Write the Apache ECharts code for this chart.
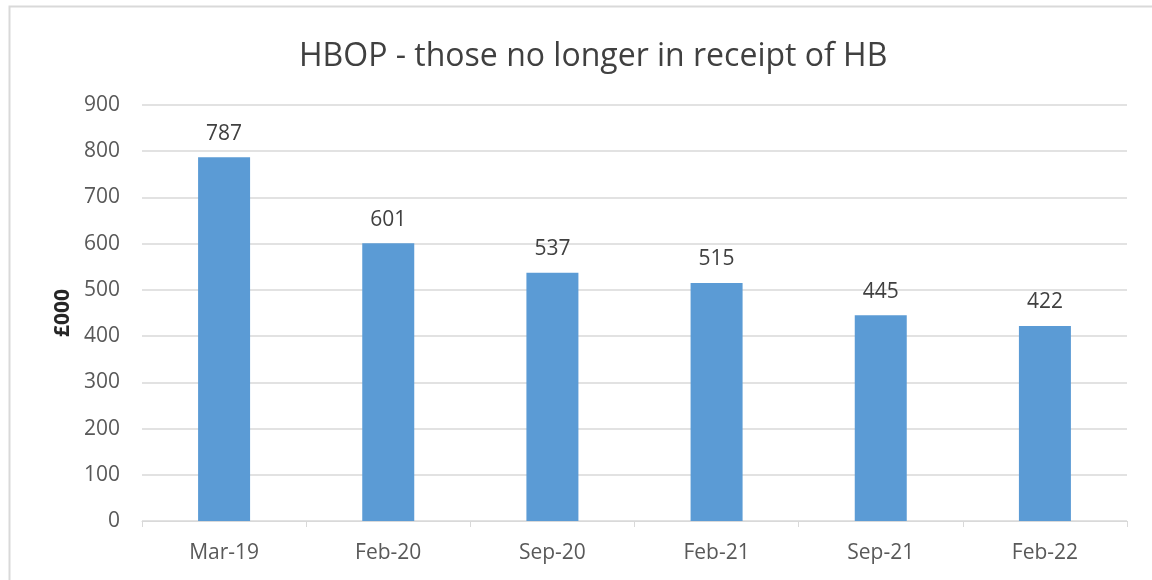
<!DOCTYPE html>
<html>
<head>
<meta charset="utf-8">
<script src="https://cdn.jsdelivr.net/npm/echarts@6/dist/echarts.min.js"></script>
<style>
  html, body { margin: 0; padding: 0; background: #fff; }
  #chart { width: 1152px; height: 580px; }
</style>
</head>
<body>
<div id="chart"></div>
<script>
var categories = ['Mar-19', 'Feb-20', 'Sep-20', 'Feb-21', 'Sep-21', 'Feb-22'];
var values = [787, 601, 537, 515, 445, 422];

var chart = echarts.init(document.getElementById('chart'));

var textColor = '#595959';
var font = '"Open Sans", "Liberation Sans", sans-serif';

chart.setOption({
    animation: false,
    graphic: [{
        type: 'rect',
        shape: { x: 9.5, y: 6.5, width: 1160, height: 600 },
        style: { fill: 'none', stroke: '#d9d9d9', lineWidth: 2 },
        silent: true
    }],
    title: {
        text: 'HBOP - those no longer in receipt of HB',
        left: 294,
        top: 36,
        textStyle: {
            color: '#404040',
            fontFamily: font,
            fontSize: 32,
            fontWeight: 'normal'
        }
    },
    grid: {
        left: 142,
        right: 25,
        top: 105,
        bottom: 59
    },
    xAxis: {
        type: 'category',
        data: categories,
        axisLine: { lineStyle: { color: '#d9d9d9', width: 1 } },
        axisTick: { show: true, length: 6, lineStyle: { color: '#d9d9d9' } },
        axisLabel: {
            color: textColor,
            fontFamily: font,
            fontSize: 21,
            margin: 22
        }
    },
    yAxis: {
        type: 'value',
        min: 0,
        max: 900,
        interval: 100,
        name: '£000',
        nameLocation: 'middle',
        nameGap: 66,
        nameTextStyle: {
            color: '#262626',
            fontFamily: font,
            fontSize: 21,
            fontWeight: 'bold'
        },
        axisLine: { show: false },
        axisTick: { show: false },
        splitLine: { lineStyle: { color: '#d9d9d9', width: 1.5 } },
        axisLabel: {
            color: textColor,
            fontFamily: font,
            fontSize: 21,
            margin: 22
        }
    },
    series: [{
        type: 'bar',
        data: values,
        barWidth: 52,
        itemStyle: { color: '#5b9bd5' },
        label: {
            show: true,
            position: 'top',
            distance: 13,
            color: '#404040',
            fontFamily: font,
            fontSize: 21
        }
    }]
});
</script>
</body>
</html>
